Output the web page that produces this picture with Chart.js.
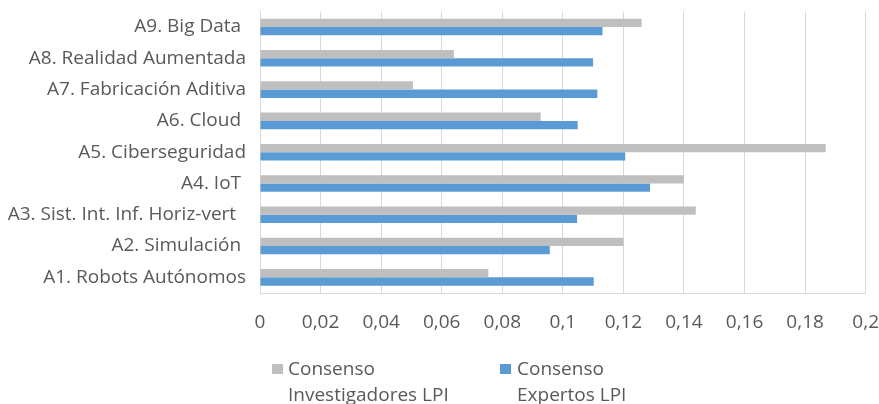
<!DOCTYPE html>
<html>
<head>
<meta charset="utf-8">
<script src="https://cdn.jsdelivr.net/npm/chart.js@4.4.1/dist/chart.umd.min.js"></script>
<style>
  html, body { margin: 0; padding: 0; background: #fff; }
  #wrap { position: relative; width: 879px; height: 404px; overflow: hidden; }
  canvas { position: absolute; left: 0; top: 0; }
  .leg { position: absolute; font-family: "Open Sans", sans-serif; font-size: 19px; color: #595959; line-height: 26px; white-space: nowrap; }
  .box { position: absolute; width: 11px; height: 10px; }
</style>
</head>
<body>
<div id="wrap">
  <canvas id="c" width="879" height="404"></canvas>
  <div class="box" style="left:272px;top:364px;background:#BFBFBF"></div>
  <div class="leg" style="left:288px;top:355px">Consenso<br>Investigadores LPI</div>
  <div class="box" style="left:500px;top:364px;background:#5B9BD5"></div>
  <div class="leg" style="left:517px;top:355px">Consenso<br>Expertos LPI</div>
</div>
<script>
// Categories listed top to bottom
const categories = [
  'A9. Big Data ',
  'A8. Realidad Aumentada',
  'A7. Fabricación Aditiva',
  'A6. Cloud ',
  'A5. Ciberseguridad',
  'A4. IoT ',
  'A3. Sist. Int. Inf. Horiz-vert  ',
  'A2. Simulación ',
  'A1. Robots Autónomos'
];
const investigadores = [0.126, 0.064, 0.0505, 0.0927, 0.1868, 0.140, 0.1439, 0.120, 0.0754];
const expertos = [0.1131, 0.110, 0.1114, 0.1049, 0.1206, 0.1288, 0.1047, 0.0957, 0.1102];
const seriesNames = ['Consenso Investigadores LPI', 'Consenso Expertos LPI'];
const xTicks = [0, 0.02, 0.04, 0.06, 0.08, 0.1, 0.12, 0.14, 0.16, 0.18, 0.2];

const textColor = '#595959';
const gridColor = '#D9D9D9';
const clear = 'rgba(0,0,0,0)';
const font = { family: '"Open Sans", sans-serif', size: 19 };

new Chart(document.getElementById('c'), {
  type: 'bar',
  data: {
    labels: categories,
    datasets: [
      { label: seriesNames[0], data: investigadores, backgroundColor: '#BFBFBF' },
      { label: seriesNames[1], data: expertos, backgroundColor: '#5B9BD5' }
    ]
  },
  options: {
    indexAxis: 'y',
    responsive: false,
    animation: false,
    devicePixelRatio: 1,
    layout: { padding: { top: 0, right: 0, bottom: 71, left: 0 } },
    datasets: { bar: { categoryPercentage: 0.53, barPercentage: 1.0 } },
    plugins: { legend: { display: false }, tooltip: { enabled: false } },
    scales: {
      x: {
        min: 0, max: 0.2,
        afterBuildTicks: s => { s.ticks = xTicks.map(v => ({ value: v })); },
        afterFit: s => { s.height = 40; },
        grid: { color: gridColor, lineWidth: 1, drawTicks: true, tickLength: 18, tickColor: clear },
        border: { color: gridColor, width: 1 },
        ticks: {
          color: textColor, font: font, padding: 0, maxRotation: 0, autoSkip: false,
          callback: v => String(Math.round(v * 100) / 100).replace('.', ',')
        }
      },
      y: {
        afterFit: s => { s.width = 260; },
        grid: { display: true, color: clear, drawTicks: true, tickLength: 14, tickColor: clear },
        border: { color: gridColor, width: 1 },
        ticks: { color: textColor, font: font, padding: 0, autoSkip: false }
      }
    }
  }
});
</script>
</body>
</html>
